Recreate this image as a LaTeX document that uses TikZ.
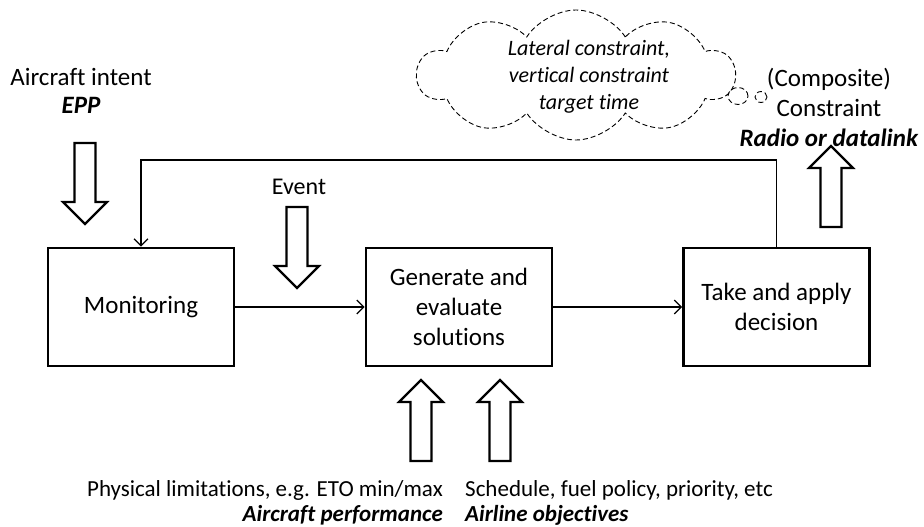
\documentclass[tikz,border=0pt]{standalone}
\usepackage{fontspec}
\setmainfont{Carlito}[Ligatures=NoCommon]
\usetikzlibrary{arrows.meta,shapes.symbols,shapes.geometric}

\tikzset{
  box/.style={draw,line width=2.6pt,minimum width=186pt,minimum height=118pt,inner sep=0pt,
    align=center,font=\fontsize{25}{30}\selectfont},
  conn/.style={line width=1.3pt,-{Straight Barb[length=7pt,width=14pt,line width=1.3pt]}},
  txt/.style={inner sep=0pt,align=center,font=\fontsize{25}{30}\selectfont},
  smalltxt/.style={inner sep=0pt,font=\fontsize{23}{25}\selectfont},
  cloudtxt/.style={inner sep=0pt,align=center,font=\fontsize{22}{27}\selectfont\itshape},
  thought/.style={draw,dashed,dash pattern=on 5pt off 3pt,line width=0.9pt},
  hollowarrow/.pic={
    \draw[line width=2.2pt,line join=miter] (-10.5,0) -- (-10.5,59) -- (-22,59) -- (0,81)
      -- (22,59) -- (10.5,59) -- (10.5,0) -- cycle;
  }
}

\begin{document}
\begin{tikzpicture}[x=1pt,y=-1pt]
\useasboundingbox (0,0) rectangle (924,527);

\node[box] (mon) at (141,307) {Monitoring};
\node[box] (gen) at (459,307) {Generate and\\evaluate\\solutions};
\node[box] (dec) at (776.5,307) {Take and apply\\decision};

\coordinate (fb) at (0,160);

\draw[conn] (mon) -- (gen);
\draw[conn] (gen) -- (dec);
\draw[conn] (dec.north) -- (dec.north |- fb) -| (mon.north);

% inputs and outputs
\node[txt,font=\fontsize{25}{28}\selectfont] (intent) at (81,91) {Aircraft intent\\\textbf{\textit{EPP}}};
\pic at (85,143) {hollowarrow};

\node[txt,font=\fontsize{24}{28}\selectfont] (event) at (299,187) {Event};
\pic at (297,207) {hollowarrow};

\pic[rotate=180] at (421,461) {hollowarrow};
\pic[rotate=180] at (500,461) {hollowarrow};
\node[smalltxt,anchor=east,align=right] (phys) at (443,503) {Physical limitations, e.g. ETO min/max\\\textbf{\textit{Aircraft performance}}};
\node[smalltxt,anchor=west,align=left] (airline) at (465,503) {Schedule, fuel policy, priority, etc\\\textbf{\textit{Airline objectives}}};

\pic[rotate=180] at (831,227) {hollowarrow};
\node[txt] (constraint) at (829,107) {(Composite)\\Constraint\\\textbf{\textit{Radio or datalink}}};

% thought cloud
\node[thought,cloud,cloud puffs=10,cloud puff arc=115,minimum width=317pt,minimum height=130pt,inner sep=0pt] (cloud) at (576,75) {};
\node[thought,ellipse,minimum width=20pt,minimum height=17pt,inner sep=0pt] (bub1) at (738,96) {};
\node[thought,ellipse,minimum width=12pt,minimum height=11pt,inner sep=0pt] (bub2) at (761,97) {};
\node[cloudtxt] (ctext) at (589,77) {Lateral constraint,\\vertical constraint\\target time};

\end{tikzpicture}
\end{document}
